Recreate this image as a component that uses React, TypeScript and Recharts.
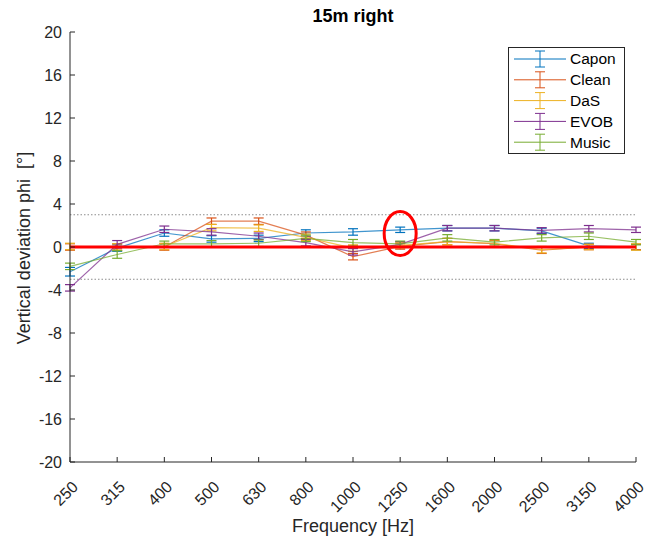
import { LineChart, Line, XAxis, YAxis, ErrorBar, ReferenceLine, ReferenceDot, Label } from "recharts";

const frequencies = ["250", "315", "400", "500", "630", "800", "1000", "1250", "1600", "2000", "2500", "3150", "4000"];

const caponValues = [-2.3, -0.1, 1.3, 0.75, 0.8, 1.3, 1.4, 1.6, 1.75, 1.75, 1.5, 0.1, 0];
const caponErrors = [0.4, 0.3, 0.3, 0.3, 0.3, 0.3, 0.3, 0.25, 0.25, 0.25, 0.25, 0.25, 0.25];

const cleanValues = [0, 0, 0, 2.4, 2.4, 1.1, -0.9, 0.05, 0.5, 0.3, -0.3, 0, 0];
const cleanErrors = [0.3, 0.3, 0.3, 0.3, 0.3, 0.3, 0.3, 0.25, 0.3, 0.3, 0.3, 0.25, 0.25];

const dasValues = [0.05, 0, 0.05, 1.8, 1.75, 0.9, -0.1, 0.15, 0.5, 0.35, -0.25, 0, 0];
const dasErrors = [0.3, 0.3, 0.3, 0.3, 0.3, 0.3, 0.3, 0.25, 0.3, 0.3, 0.3, 0.25, 0.3];

const evobValues = [-3.8, 0.25, 1.65, 1.4, 1.0, 0.4, -0.45, 0.25, 1.75, 1.75, 1.55, 1.7, 1.6];
const evobErrors = [0.3, 0.35, 0.3, 0.3, 0.3, 0.3, 0.3, 0.25, 0.25, 0.25, 0.25, 0.3, 0.25];

const musicValues = [-1.8, -0.7, 0.3, 0.3, 0.35, 0.8, 0.4, 0.3, 0.85, 0.45, 0.85, 1.0, 0.45];
const musicErrors = [0.3, 0.35, 0.25, 0.3, 0.3, 0.3, 0.3, 0.25, 0.3, 0.25, 0.3, 0.3, 0.25];

const yTicks = [-20, -16, -12, -8, -4, 0, 4, 8, 12, 16, 20];

const series = [
  { key: "capon", name: "Capon", color: "#0072BD", values: caponValues, errors: caponErrors },
  { key: "clean", name: "Clean", color: "#D95319", values: cleanValues, errors: cleanErrors },
  { key: "das", name: "DaS", color: "#EDB120", values: dasValues, errors: dasErrors },
  { key: "evob", name: "EVOB", color: "#7E2F8E", values: evobValues, errors: evobErrors },
  { key: "music", name: "Music", color: "#77AC30", values: musicValues, errors: musicErrors },
];

const data = frequencies.map((freq, i) => {
  const row: Record<string, string | number> = { freq };
  series.forEach((s) => {
    row[s.key] = s.values[i];
    row[s.key + "Err"] = s.errors[i];
  });
  return row;
});

const FONT = "'Liberation Sans', Arial, sans-serif";
const AXIS = "#262626";

const YTick = ({ x, y, payload }: any) => (
  <g>
    <line x1={x} x2={x + 5} y1={y} y2={y} stroke={AXIS} strokeWidth={1} />
    <text x={x - 8} y={y} dy="0.35em" textAnchor="end" fontSize={16} fill={AXIS} fontFamily={FONT}>
      {payload.value}
    </text>
  </g>
);

const XTick = ({ x, y, payload }: any) => (
  <g>
    <line x1={x} x2={x} y1={y} y2={y - 5} stroke={AXIS} strokeWidth={1} />
    <g transform={`translate(${x + 5}, ${y + 22}) rotate(-45)`}>
      <text x={0} y={0} dy="0.35em" textAnchor="end" fontSize={16} fill={AXIS} fontFamily={FONT}>
        {payload.value}
      </text>
    </g>
  </g>
);

const Ellipse = ({ cx, cy }: any) => (
  <ellipse cx={cx} cy={cy} rx={16} ry={22} fill="none" stroke="#FF0000" strokeWidth={3} />
);

function LegendBox() {
  return (
    <div
      style={{
        position: "absolute",
        left: 508,
        top: 47,
        width: 117,
        height: 107,
        border: `1px solid ${AXIS}`,
        background: "#fff",
        boxSizing: "border-box",
      }}
    >
      <svg width={115} height={105}>
        {series.map((s, i) => {
          const cy = 11 + i * 20.8;
          return (
            <g key={s.key}>
              <line x1={5} x2={57} y1={cy} y2={cy} stroke={s.color} strokeWidth={1} />
              <line x1={31} x2={31} y1={cy - 8} y2={cy + 8} stroke={s.color} strokeWidth={1} />
              <line x1={26} x2={36} y1={cy - 8} y2={cy - 8} stroke={s.color} strokeWidth={1} />
              <line x1={26} x2={36} y1={cy + 8} y2={cy + 8} stroke={s.color} strokeWidth={1} />
              <text x={61} y={cy} dy="0.35em" fontSize={15.5} fill="#000" fontFamily={FONT}>
                {s.name}
              </text>
            </g>
          );
        })}
      </svg>
    </div>
  );
}

export default function App() {
  return (
    <div style={{ position: "absolute", left: 0, top: 0, width: 648, height: 543, background: "#fff" }}>
      <LineChart width={648} height={543} data={data} margin={{ top: 32, right: 12, left: 0, bottom: 0 }}>
        <XAxis
          dataKey="freq"
          height={81}
          stroke={AXIS}
          tickLine={false}
          tickSize={0}
          tickMargin={0}
          interval={0}
          tick={<XTick />}
        >
          <Label
            content={() => (
              <text x={353} y={532} textAnchor="middle" fontSize={18} fill={AXIS} fontFamily={FONT}>
                Frequency [Hz]
              </text>
            )}
          />
        </XAxis>
        <YAxis
          width={70}
          domain={[-20, 20]}
          ticks={yTicks}
          stroke={AXIS}
          tickLine={false}
          tickSize={0}
          tickMargin={0}
          interval={0}
          tick={<YTick />}
        >
          <Label
            content={() => (
              <text
                x={24}
                y={248}
                transform="rotate(-90 24 248)"
                textAnchor="middle"
                dominantBaseline="central"
                fontSize={18}
                fill={AXIS}
                fontFamily={FONT}
                style={{ whiteSpace: "pre" }}
              >
                {"Vertical deviation phi  [°]"}
              </text>
            )}
          />
        </YAxis>
        <ReferenceLine y={3} stroke="#8c8c8c" strokeDasharray="1.5 2" strokeWidth={1} />
        <ReferenceLine y={-3} stroke="#8c8c8c" strokeDasharray="1.5 2" strokeWidth={1} />
        {series.map((s) => (
          <Line
            key={s.key}
            dataKey={s.key}
            name={s.name}
            stroke={s.color}
            strokeOpacity={0.75}
            strokeWidth={1.2}
            dot={false}
            activeDot={false}
            isAnimationActive={false}
          >
            <ErrorBar dataKey={s.key + "Err"} width={5} stroke={s.color} strokeWidth={1.2} isAnimationActive={false} />
          </Line>
        ))}
        <ReferenceLine y={0} stroke="#FF0000" strokeWidth={3} />
        <ReferenceDot x="1250" y={1.25} shape={<Ellipse />} />
      </LineChart>
      <div
        style={{
          position: "absolute",
          left: 0,
          top: 6,
          width: 706,
          textAlign: "center",
          fontFamily: FONT,
          fontWeight: "bold",
          fontSize: 18,
          color: "#000",
        }}
      >
        15m right
      </div>
      <LegendBox />
    </div>
  );
}
